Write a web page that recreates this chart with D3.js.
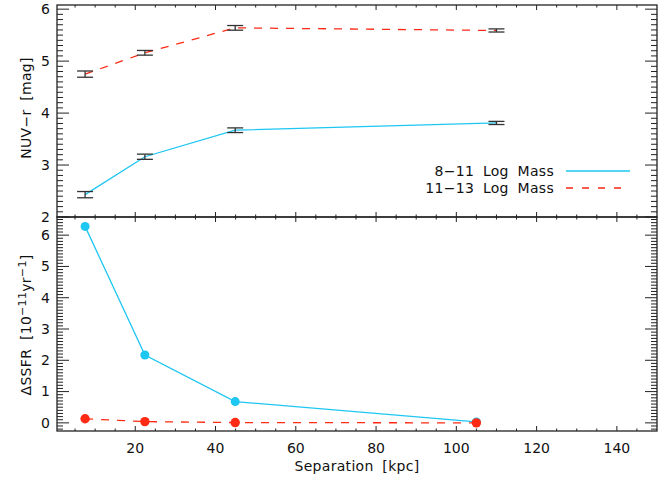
<!DOCTYPE html>
<html>
<head>
<meta charset="utf-8">
<script src="https://cdn.jsdelivr.net/npm/d3@7"></script>
<style>
  body { margin: 0; background: #fff; }
  text { font-family: "DejaVu Sans", sans-serif; font-size: 14px; fill: #111; }
  .title { word-spacing: 4px; letter-spacing: 0.3px; }
</style>
</head>
<body>
<script>
// separation bins (kpc)
var sepTop = [7.5, 22.4, 44.9, 110];
var sepBottom = [7.5, 22.4, 44.9, 105];

// NUV-r colours and errors
var nuvLow = [2.43, 3.16, 3.67, 3.81];
var nuvLowErr = [0.06, 0.05, 0.045, 0.03];
var nuvHigh = [4.75, 5.16, 5.64, 5.59];
var nuvHighErr = [0.06, 0.045, 0.045, 0.03];

// delta SSFR
var ssfrLow = [6.28, 2.17, 0.68, 0.03];
var ssfrHigh = [0.13, 0.04, 0.01, 0.0];

var seriesNames = ["8\u221211 Log Mass", "11\u221213 Log Mass"];
var xTicks = [20, 40, 60, 80, 100, 120, 140];
var topTicks = [2, 3, 4, 5, 6];
var botTicks = [0, 1, 2, 3, 4, 5, 6];

var blue = "#1ec6f2", red = "#ff2a14";

var W = 661, H = 478;
var left = 57, right = 657;
var topY0 = 5, topY1 = 217, botY1 = 431;

var svg = d3.select("body").append("svg")
    .attr("width", W)
    .attr("height", H);

var x = d3.scaleLinear().domain([0.5, 150]).range([left, right]);
var yTop = d3.scaleLinear().domain([2, 6.08]).range([topY1, topY0]);
var yBot = d3.scaleLinear().domain([-0.26, 6.58]).range([botY1, topY1]);

// frame + ticks for a panel
function panel(y, ymaj, yminStep, yTop0, yBot0, showXLabels) {
  var g = svg.append("g");
  var xMinor = d3.range(5, 150, 5);
  var yd = y.domain();
  var yMinor = d3.range(Math.ceil(yd[0] / yminStep) * yminStep, yd[1], yminStep);

  // x ticks bottom (up) and top (down)
  [[yBot0, -1], [yTop0, 1]].forEach(function(p) {
    g.selectAll(null).data(xMinor).enter().append("line")
      .attr("x1", d => x(d)).attr("x2", d => x(d))
      .attr("y1", p[0])
      .attr("y2", d => p[0] + p[1] * (d % 20 === 0 ? 5 : 2.5))
      .attr("stroke", "#222").attr("stroke-width", 1);
  });
  // y ticks left and right
  [[left, 1], [right, -1]].forEach(function(p) {
    g.selectAll(null).data(yMinor).enter().append("line")
      .attr("y1", d => y(d)).attr("y2", d => y(d))
      .attr("x1", p[0])
      .attr("x2", d => p[0] + p[1] * (Math.abs(d - Math.round(d)) < 1e-6 ? 12 : 6))
      .attr("stroke", "#222").attr("stroke-width", 1);
  });
  g.append("rect")
    .attr("x", left).attr("y", yTop0)
    .attr("width", right - left).attr("height", yBot0 - yTop0)
    .attr("fill", "none").attr("stroke", "#222").attr("stroke-width", 1.3);

  g.selectAll(null).data(ymaj).enter().append("text")
    .attr("x", left - 7).attr("y", d => y(d)).attr("dy", "0.35em")
    .attr("text-anchor", "end").text(d => d);

  if (showXLabels) {
    g.selectAll(null).data(xTicks).enter().append("text")
      .attr("x", d => x(d)).attr("y", yBot0 + 22)
      .attr("text-anchor", "middle").text(d => d);
  }
}

panel(yTop, topTicks, 0.1, topY0, topY1, false);
panel(yBot, botTicks, 0.1, topY1, botY1, true);

// top panel lines
var lineTop = d3.line().x(d => x(d[0])).y(d => yTop(d[1]));
svg.append("path")
  .datum(d3.zip(sepTop, nuvLow))
  .attr("d", lineTop).attr("fill", "none")
  .attr("stroke", blue).attr("stroke-width", 1.3);
svg.append("path")
  .datum(d3.zip(sepTop, nuvHigh))
  .attr("d", lineTop).attr("fill", "none")
  .attr("stroke", red).attr("stroke-width", 1.3)
  .attr("stroke-dasharray", "8,8");

// error bars
function errBars(vals, errs) {
  var g = svg.append("g").attr("stroke", "#333").attr("stroke-width", 1.3);
  sepTop.forEach(function(s, i) {
    var cx = x(s), lo = yTop(vals[i] - errs[i]), hi = yTop(vals[i] + errs[i]);
    g.append("line").attr("x1", cx).attr("x2", cx).attr("y1", lo).attr("y2", hi);
    g.append("line").attr("x1", cx - 8).attr("x2", cx + 8).attr("y1", lo).attr("y2", lo);
    g.append("line").attr("x1", cx - 8).attr("x2", cx + 8).attr("y1", hi).attr("y2", hi);
  });
}
errBars(nuvLow, nuvLowErr);
errBars(nuvHigh, nuvHighErr);

// legend
var leg = [[seriesNames[0], blue, null, 171], [seriesNames[1], red, "7,9", 188]];
leg.forEach(function(l) {
  svg.append("text").attr("class", "title").attr("x", 554).attr("y", l[3]).attr("dy", "0.35em")
    .attr("text-anchor", "end").text(l[0]);
  svg.append("line").attr("x1", 566).attr("x2", l[2] ? 624 : 630)
    .attr("y1", l[3]).attr("y2", l[3])
    .attr("stroke", l[1]).attr("stroke-width", 1.5)
    .attr("stroke-dasharray", l[2]);
});

// bottom panel
var lineBot = d3.line().x(d => x(d[0])).y(d => yBot(d[1]));
svg.append("path")
  .datum(d3.zip(sepBottom, ssfrLow))
  .attr("d", lineBot).attr("fill", "none")
  .attr("stroke", blue).attr("stroke-width", 1.3);
svg.append("path")
  .datum(d3.zip(sepBottom, ssfrHigh))
  .attr("d", lineBot).attr("fill", "none")
  .attr("stroke", red).attr("stroke-width", 1.3)
  .attr("stroke-dasharray", "8,8");
svg.selectAll(".dlow").data(d3.zip(sepBottom, ssfrLow)).enter().append("circle")
  .attr("cx", d => x(d[0])).attr("cy", d => yBot(d[1])).attr("r", 4.5)
  .attr("fill", blue);
svg.selectAll(".dhigh").data(d3.zip(sepBottom, ssfrHigh)).enter().append("circle")
  .attr("cx", d => x(d[0])).attr("cy", d => yBot(d[1])).attr("r", 4.7)
  .attr("fill", red);

// axis titles
svg.append("text").attr("class", "title")
  .attr("x", 357).attr("y", 471)
  .attr("text-anchor", "middle").text("Separation [kpc]");

svg.append("text").attr("class", "title")
  .attr("transform", "translate(31,108)rotate(-90)")
  .attr("text-anchor", "middle").text("NUV\u2212r [mag]");

var yl = svg.append("text").attr("class", "title")
  .attr("transform", "translate(31,325)rotate(-90)")
  .attr("text-anchor", "middle");
yl.append("tspan").text("\u0394SSFR [10");
yl.append("tspan").attr("dy", -5).attr("font-size", "11px").text("\u221211");
yl.append("tspan").attr("dy", 5).text("yr");
yl.append("tspan").attr("dy", -5).attr("font-size", "11px").text("\u22121");
yl.append("tspan").attr("dy", 5).text("]");
</script>
</body>
</html>
